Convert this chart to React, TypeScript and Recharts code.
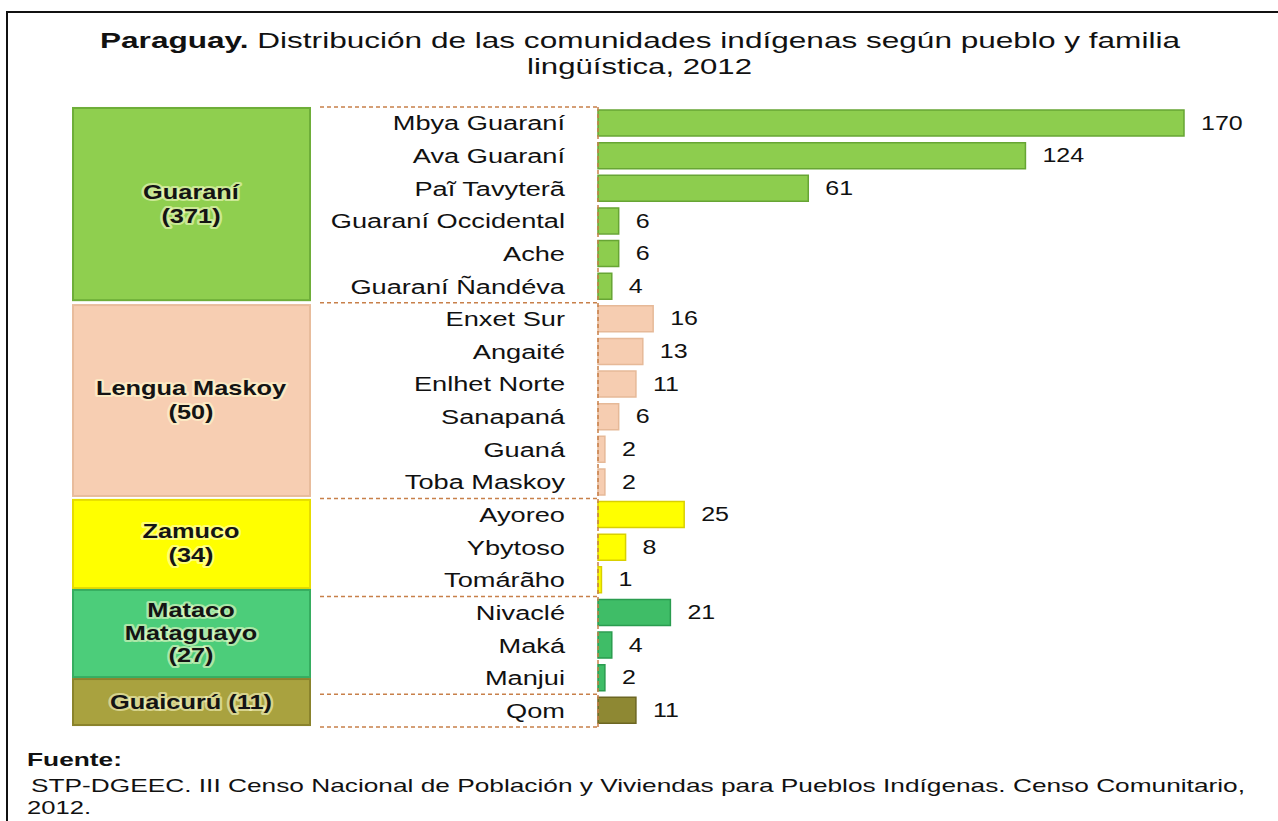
import React from 'react'
import { BarChart, Bar, XAxis, YAxis, Cell, LabelList, ReferenceLine } from 'recharts'

// pueblos, in the order drawn (top to bottom)
const pueblos = [
  'Mbya Guaraní', 'Ava Guaraní', 'Paĩ Tavyterã', 'Guaraní Occidental', 'Ache', 'Guaraní Ñandéva',
  'Enxet Sur', 'Angaité', 'Enlhet Norte', 'Sanapaná', 'Guaná', 'Toba Maskoy',
  'Ayoreo', 'Ybytoso', 'Tomárãho',
  'Nivaclé', 'Maká', 'Manjui',
  'Qom',
]
const comunidades = [170, 124, 61, 6, 6, 4, 16, 13, 11, 6, 2, 2, 25, 8, 1, 21, 4, 2, 11]
const familiaDePueblo = [0, 0, 0, 0, 0, 0, 1, 1, 1, 1, 1, 1, 2, 2, 2, 3, 3, 3, 4]

const familiaLineas = [['Guaraní'], ['Lengua Maskoy'], ['Zamuco'], ['Mataco', 'Mataguayo'], ['Guaicurú']]
const familiaTotales = [371, 50, 34, 27, 11]

// family boxes, in row (band) units: they do not sit exactly on the bands
const boxDesde = [0.03, 6.07, 12.04, 14.8, 17.53]
const boxHasta = [5.92, 11.92, 14.74, 17.47, 18.94]

const boxFill = ['#8fcf4f', '#f7ceb2', '#ffff00', '#4ccd7a', '#a9a23f']
const boxEdge = ['#6eae39', '#e8bc9c', '#e6dc00', '#36ad60', '#8a832c']
const barFill = ['#8dcd4e', '#f6cdb1', '#ffff00', '#3fbd67', '#8e8833']
const barEdge = ['#67a534', '#e6b998', '#d9d000', '#2a9c4f', '#6c6622']

const FONT = '"Liberation Sans", Arial, sans-serif'
const W = 1278
const H = 821
const TOP = 107
const BOTTOM = 727
const BAND = (BOTTOM - TOP) / pueblos.length
const DASH = '#c8804a'

const data = pueblos.map((p, i) => ({ pueblo: p, comunidades: comunidades[i], familia: familiaDePueblo[i] }))

function PuebloTick(props: any) {
  const { x, y, payload } = props
  const i = pueblos.indexOf(payload.value)
  const band = payload.offset ? payload.offset * 2 : BAND
  const f = familiaDePueblo[i]
  const first = i === 0 || familiaDePueblo[i - 1] !== f
  const last = i === pueblos.length - 1
  const rows = familiaDePueblo.filter(v => v === f).length
  const top = y - band / 2
  let group = null
  if (first) {
    const lines = rows === 1
      ? [`${familiaLineas[f][0]} (${familiaTotales[f]})`]
      : [...familiaLineas[f], `(${familiaTotales[f]})`]
    const y0 = top + (boxDesde[f] - i) * band
    const y1 = top + (boxHasta[f] - i) * band
    const lh = lines.length > 2 ? 22.5 : 24
    const cy = (y0 + y1) / 2 - ((lines.length - 1) * lh) / 2
    group = (
      <g>
        <rect x={x - 525} y={y0} width={237} height={y1 - y0} fill={boxFill[f]} stroke={boxEdge[f]} strokeWidth={2} />
        {lines.map((l, k) => (
          <g key={k} transform={`translate(${x - 407},${cy + k * lh})`}>
            <text transform="scale(1.3,1)" textAnchor="middle" dominantBaseline="central"
              fontFamily={FONT} fontWeight="bold" fontSize={19.5} fill="#141414"
              stroke="rgba(255,255,210,0.55)" strokeWidth={4} strokeLinejoin="round" paintOrder="stroke">
              {l}
            </text>
          </g>
        ))}
        <line x1={x - 278} x2={x} y1={top} y2={top} stroke={DASH} strokeDasharray="4 3" strokeWidth={1.5} />
      </g>
    )
  }
  return (
    <g>
      {group}
      {last && (
        <line x1={x - 278} x2={x} y1={top + band} y2={top + band} stroke={DASH} strokeDasharray="4 3" strokeWidth={1.5} />
      )}
      <g transform={`translate(${x - 33},${y})`}>
        <text transform="scale(1.36,1)" textAnchor="end" dominantBaseline="central" fontFamily={FONT} fontSize={20} fill="#111">
          {payload.value}
        </text>
      </g>
    </g>
  )
}

function ValorLabel(props: any) {
  const { x, y, width, height, value } = props
  return (
    <g transform={`translate(${x + width + 17},${y + height / 2})`}>
      <text transform="scale(1.25,1)" dominantBaseline="central" fontFamily={FONT} fontSize={20} fill="#111">
        {value}
      </text>
    </g>
  )
}

export default function App() {
  return (
    <div style={{ position: 'absolute', left: 0, top: 0, width: W, height: H, background: '#fff', overflow: 'hidden' }}>
      <div style={{ position: 'absolute', left: 6, top: 11, right: 0, bottom: 0, borderTop: '2px solid #111', borderLeft: '2px solid #111' }} />
      <svg width={W} height={H} style={{ position: 'absolute', left: 0, top: 0 }}>
        <text x={100} y={48} textLength={1080} lengthAdjust="spacingAndGlyphs" fontFamily={FONT} fontSize={22} fill="#111">
          <tspan fontWeight="bold">Paraguay.</tspan> Distribución de las comunidades indígenas según pueblo y familia
        </text>
        <text x={527} y={74} textLength={225} lengthAdjust="spacingAndGlyphs" fontFamily={FONT} fontSize={22} fill="#111">
          lingüística, 2012
        </text>
        <text x={27} y={766} textLength={95} lengthAdjust="spacingAndGlyphs" fontFamily={FONT} fontWeight="bold" fontSize={18} fill="#111">
          Fuente:
        </text>
        <text x={31} y={792} textLength={1214} lengthAdjust="spacingAndGlyphs" fontFamily={FONT} fontSize={19} fill="#111">
          STP-DGEEC. III Censo Nacional de Población y Viviendas para Pueblos Indígenas. Censo Comunitario,
        </text>
        <text x={27} y={814} textLength={64} lengthAdjust="spacingAndGlyphs" fontFamily={FONT} fontSize={19} fill="#111">
          2012.
        </text>
      </svg>
      <div style={{ position: 'absolute', left: 0, top: 0 }}>
        <BarChart
          width={W}
          height={H}
          data={data}
          layout="vertical"
          margin={{ top: TOP, right: W - 1184, bottom: H - BOTTOM, left: 0 }}
          barSize={26}
        >
          <XAxis type="number" domain={[0, 170]} hide />
          <YAxis
            type="category"
            dataKey="pueblo"
            width={598}
            axisLine={false}
            tickLine={false}
            tickSize={0}
            tickMargin={0}
            interval={0}
            tick={<PuebloTick />}
          />
          <ReferenceLine x={0} stroke={DASH} strokeDasharray="4 3" strokeWidth={1.5} />
          <Bar dataKey="comunidades" isAnimationActive={false}>
            {data.map((d, i) => (
              <Cell key={i} fill={barFill[d.familia]} stroke={barEdge[d.familia]} strokeWidth={1.5} />
            ))}
            <LabelList dataKey="comunidades" content={<ValorLabel />} />
          </Bar>
        </BarChart>
      </div>
    </div>
  )
}
